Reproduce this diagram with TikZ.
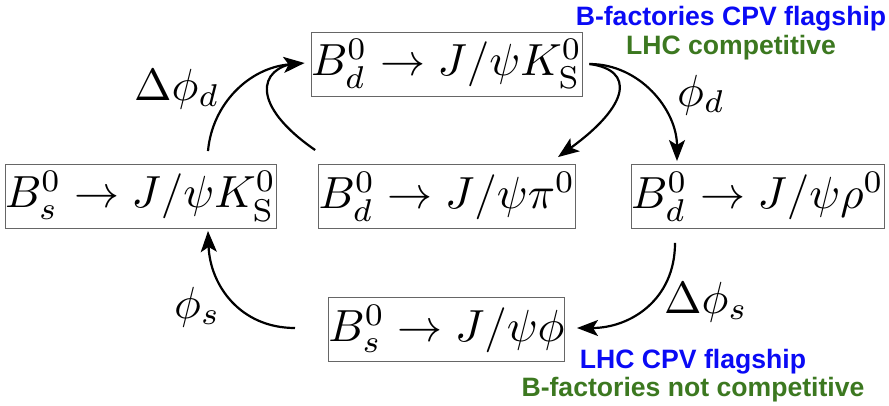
\documentclass[tikz,border=0pt]{standalone}
\usepackage{fontspec}
\usepackage{graphicx}
\newfontfamily\hv{Liberation Sans}
\usetikzlibrary{arrows.meta}
\definecolor{fblue}{RGB}{10,10,245}
\definecolor{fgreen}{RGB}{60,120,32}
\newcommand{\mth}[1]{\scalebox{4.5}{$#1$}}
\tikzset{
  decay/.style={draw=black!60, line width=0.9pt, inner sep=0pt, minimum height=64pt},
  lbl/.style={inner sep=0pt, anchor=base west},
  note/.style={inner sep=0pt, anchor=base, font=\hv\bfseries\fontsize{26.6}{29}\selectfont},
  arr/.style={line width=2.2pt, -{Stealth[length=21pt,width=16pt,inset=5pt]}},
  plainline/.style={line width=2.2pt},
}
\begin{document}
\begin{tikzpicture}[x=1pt,y=-1pt]
\useasboundingbox (0,0) rectangle (889,405);
% boxes
\node[decay, minimum width=267pt] (tbox) at (446.5,64) {\mth{B^0_d\to J/\psi K^0_{\mathrm{S}}}};
\node[decay, minimum width=271pt] (lbox) at (140.5,196.5) {\mth{B^0_s\to J/\psi K^0_{\mathrm{S}}}};
\node[decay, minimum width=254pt] (mbox) at (447,196.5) {\mth{B^0_d\to J/\psi \pi^0}};
\node[decay, minimum width=253pt] (rbox) at (757.5,196.5) {\mth{B^0_d\to J/\psi \rho^0}};
\node[decay, minimum width=233pt] (bbox) at (446.5,329) {\mth{B^0_s\to J/\psi \phi}};
% labels
\node[lbl] (ldd) at (134,100) {\mth{\Delta\phi_d}};
\node[lbl] (ld) at (677,106) {\mth{\phi_d}};
\node[lbl] (lds) at (664,313) {\mth{\Delta\phi_s}};
\node[lbl] (ls) at (174,318) {\mth{\phi_s}};
% notes
\node[note, text=fblue] (n1) at (731,25) {B-factories CPV flagship};
\node[note, text=fgreen] (n2) at (731,54) {LHC competitive};
\node[note, text=fblue] (n3) at (693,368) {LHC CPV flagship};
\node[note, text=fgreen] (n4) at (693,396) {B-factories not competitive};
% connectors
\draw[plainline] ([xshift=-3pt,yshift=14pt]mbox.north west) .. controls (250,105) and (258,68) .. ([xshift=-14pt,yshift=1pt]tbox.west);
\draw[arr] ([xshift=67.5pt,yshift=13pt]lbox.north) .. controls (212,105) and (248,68) .. ([xshift=-6pt,yshift=1pt]tbox.west);
\draw[arr] ([xshift=7pt]tbox.east) .. controls (635,70) and (630,105) .. ([xshift=111pt,yshift=7pt]mbox.north);
\draw[arr] ([xshift=7pt]tbox.east) .. controls (640,64) and (677,110) .. ([xshift=-80.5pt,yshift=3pt]rbox.north);
\draw[arr] ([xshift=-82.5pt,yshift=-14pt]rbox.south) .. controls (675,300) and (630,328) .. ([xshift=12pt,yshift=1pt]bbox.east);
\draw[arr] ([xshift=-33pt,yshift=1pt]bbox.west) .. controls (240,328) and (210,285) .. ([xshift=67.5pt,yshift=-2pt]lbox.south);
\end{tikzpicture}
\end{document}
